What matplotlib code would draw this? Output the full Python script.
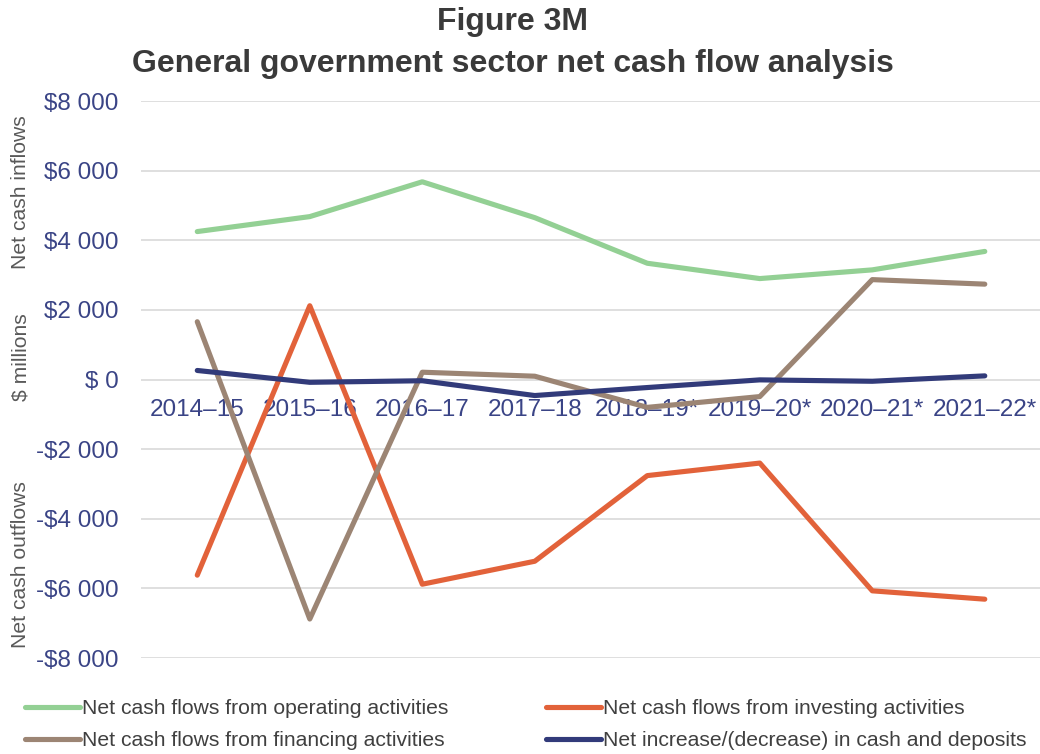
import matplotlib
matplotlib.use("Agg")
import matplotlib.pyplot as plt
from matplotlib.ticker import FuncFormatter

plt.rcParams['font.family'] = ['Liberation Sans', 'DejaVu Sans']

years = ['2014–15', '2015–16', '2016–17', '2017–18',
         '2018–19*', '2019–20*', '2020–21*', '2021–22*']
operating = [4250, 4680, 5680, 4650, 3340, 2900, 3150, 3680]
investing = [-5620, 2120, -5880, -5220, -2760, -2400, -6070, -6310]
financing = [1660, -6880, 210, 95, -800, -490, 2870, 2740]
net_change = [260, -80, -35, -460, -230, -10, -50, 105]

series = [
    ("Net cash flows from operating activities", operating, '#93d094'),
    ("Net cash flows from investing activities", investing, '#e2623a'),
    ("Net cash flows from financing activities", financing, '#9c8574'),
    ("Net increase/(decrease) in cash and deposits", net_change, '#323b7a'),
]

tick_color = '#3a4486'


def money(v, pos):
    if v == 0:
        return '$ 0'
    s = '$' + format(int(abs(v)), ',').replace(',', ' ')
    return '-' + s if v < 0 else s


fig = plt.figure(figsize=(10.4, 7.54), dpi=100)
ax = fig.add_axes([0.1356, 0.1273, 0.8654, 0.7387])

x = range(len(years))
lines = []
for label, vals, col in series:
    ln, = ax.plot(x, vals, color=col, lw=3.7, label=label, solid_capstyle='round')
    lines.append(ln)

ax.set_xlim(-0.5, len(years) - 0.5)
ax.set_ylim(-8000, 8000)
ax.set_yticks(range(-8000, 8001, 2000))
ax.yaxis.set_major_formatter(FuncFormatter(money))
ax.grid(axis='y', color='#d9d9d9', lw=1.2)
ax.set_axisbelow(True)
for s in ['top', 'right', 'left']:
    ax.spines[s].set_visible(False)
ax.spines['bottom'].set_position(('data', 0))
ax.spines['bottom'].set_visible(False)
ax.set_xticks(list(x))
ax.set_xticklabels(years)
ax.tick_params(axis='x', length=0, pad=14, labelsize=17.5, labelcolor=tick_color)
ax.tick_params(axis='y', length=0, pad=16, labelsize=17.5, labelcolor=tick_color)

fig.text(0.493, 1 - 22 / 754, "Figure 3M", ha='center', va='center',
         fontsize=23, fontweight='bold', color='#3a3a3a')
fig.text(0.493, 1 - 64 / 754, "General government sector net cash flow analysis",
         ha='center', va='center', fontsize=23, fontweight='bold', color='#3a3a3a')

side = '#595959'
fig.text(0.02, 1 - 192 / 754, "Net cash inflows", rotation=90, ha='center',
         va='center', fontsize=15.2, color=side)
fig.text(0.02, 1 - 357 / 754, "$ millions", rotation=90, ha='center',
         va='center', fontsize=15.2, color=side)
fig.text(0.02, 1 - 565 / 754, "Net cash outflows", rotation=90, ha='center',
         va='center', fontsize=15.2, color=side)

order = [lines[0], lines[2], lines[1], lines[3]]
fig.legend(handles=order, loc='lower left', bbox_to_anchor=(0.006, -0.02),
           ncol=2, frameon=False, fontsize=15.2, handlelength=2.6,
           handletextpad=0.1, columnspacing=4.6, labelspacing=0.6,
           labelcolor='#404040')

fig.savefig("out.png", dpi=100)
